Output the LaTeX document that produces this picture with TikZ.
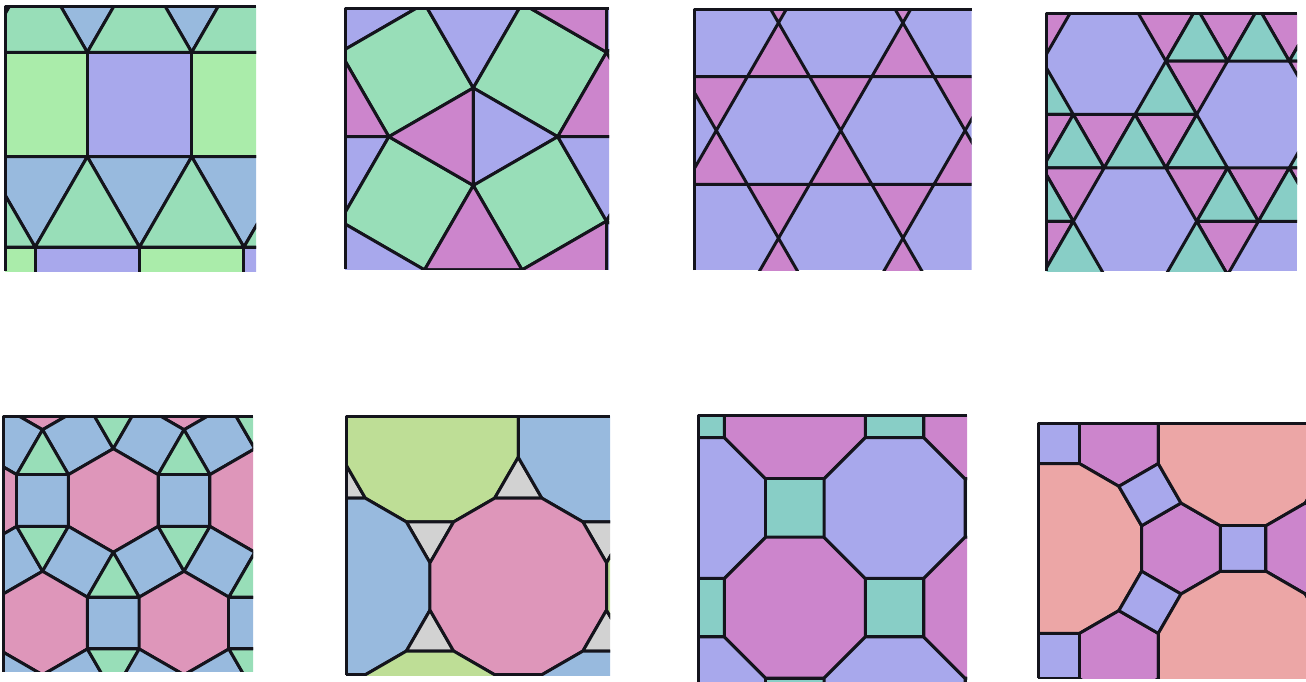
\documentclass[tikz,border=0pt]{standalone}
\usepackage{xcolor}
\definecolor{tilelav}{RGB}{168,168,236}
\definecolor{tilemag}{RGB}{204,133,204}
\definecolor{tilelgreen}{RGB}{170,236,170}
\definecolor{tilemint}{RGB}{152,222,184}
\definecolor{tileblue}{RGB}{152,186,222}
\definecolor{tileteal}{RGB}{136,206,198}
\definecolor{tilepink}{RGB}{222,150,186}
\definecolor{tileolive}{RGB}{190,222,150}
\definecolor{tilegrey}{RGB}{210,210,210}
\definecolor{tilesalmon}{RGB}{236,166,166}
\definecolor{tileedge}{RGB}{20,20,28}
\usepackage{tikz}

\begin{document}
\begin{tikzpicture}[x=1pt, y=-1pt, line width=3pt, line join=round,
  tile/.style={draw=tileedge},
  panelframe/.style={draw=tileedge, line width=3pt}]
\useasboundingbox (0,0) rectangle (1306,682);

\begin{scope}
  \clip (5,6.5) rectangle (256,271);
  \foreach \ry/\off in {-142.5/35.1, 52.3/87.3, 247.1/35.1} {
    \foreach \m in {-2,...,3} {
      \ifodd\m\relax \def\col{tilelgreen}\else \def\col{tilelav}\fi
      \filldraw[tile, fill=\col] (\off+104.4*\m, \ry) rectangle ++(104.4,104.4);
      \filldraw[tile, fill=tileblue] (\off+104.4*\m, \ry+104.4) -- (\off+104.4*\m+104.4, \ry+104.4) -- (\off+104.4*\m+52.2, \ry+194.8) -- cycle;
      \filldraw[tile, fill=tilemint] (\off+104.4*\m, \ry+104.4) -- (\off+104.4*\m+52.2, \ry+194.8) -- (\off+104.4*\m-52.2, \ry+194.8) -- cycle;
    }
  }
\end{scope}

\begin{scope}
  \clip (345,8.3) rectangle (609,269);
  \foreach \i in {-2,...,2} {
    \foreach \j in {-2,...,2} {
      \pgfmathsetmacro\px{473.3+133.2*\i}
      \pgfmathsetmacro\py{136.7+133.2*\j}
      \pgfmathtruncatemacro\pty{mod(\i+\j+10,2)}
      \ifnum\pty=0
        \filldraw[tile, fill=tilemag] (\px,\py-48.75) -- (\px-84.4,\py) -- (\px,\py+48.75) -- cycle;
        \filldraw[tile, fill=tilelav] (\px,\py-48.75) -- (\px+84.4,\py) -- (\px,\py+48.75) -- cycle;
        \def\rot{15}
      \else
        \filldraw[tile, fill=tilemag] (\px-48.75,\py) -- (\px,\py-84.4) -- (\px+48.75,\py) -- cycle;
        \filldraw[tile, fill=tilelav] (\px-48.75,\py) -- (\px,\py+84.4) -- (\px+48.75,\py) -- cycle;
        \def\rot{-15}
      \fi
      \filldraw[tile, fill=tilemint, shift={(\px+66.6,\py+66.6)}]
        (\rot:68.94) -- (\rot+90:68.94) -- (\rot+180:68.94) -- (\rot+270:68.94) -- cycle;
    }
  }
\end{scope}

\begin{scope}
  \clip (694,9.3) rectangle (971.5,270);
  \fill[tilelav] (694,9.3) rectangle (971.5,270);
  \foreach \cy/\ox in {22.8/778.5, 130.5/716.3, 238.2/778.5} {
    \foreach \m in {-1,...,2} {
      \pgfmathsetmacro\cx{\ox+124.4*\m}
      \filldraw[tile, fill=tilemag] (\cx,\cy) -- (\cx-31.1,\cy-53.85) -- (\cx+31.1,\cy-53.85) -- cycle;
      \filldraw[tile, fill=tilemag] (\cx,\cy) -- (\cx-31.1,\cy+53.85) -- (\cx+31.1,\cy+53.85) -- cycle;
    }
  }
\end{scope}

\begin{scope}
  \clip (1046.7,13.3) rectangle (1297,271);
  \fill[tilelav] (1046.7,13.3) rectangle (1297,271);
  \foreach \k in {-2,...,4} {
    \foreach \m in {-5,...,5} {
      \pgfmathsetmacro\vx{1135+61.7*(\m+\k/2)}
      \pgfmathsetmacro\vy{114.5+53.43*\k}
      \pgfmathtruncatemacro\ra{mod(\m-2*\k-2+70,7)}
      \pgfmathtruncatemacro\rb{mod(\m-2*\k-1+70,7)}
      \pgfmathtruncatemacro\rc{mod(\m-2*\k+1+70,7)}
      \pgfmathtruncatemacro\rd{mod(\m-2*\k-4+70,7)}
      \ifnum\ra>0 \ifnum\rb>0
        \ifnum\rc>0
          \filldraw[tile, fill=tileteal] (\vx,\vy) -- (\vx+61.7,\vy) -- (\vx+30.85,\vy-53.43) -- cycle;
        \fi
        \ifnum\rd>0
          \filldraw[tile, fill=tilemag] (\vx,\vy) -- (\vx+61.7,\vy) -- (\vx+30.85,\vy+53.43) -- cycle;
        \fi
      \fi\fi
    }
  }
\end{scope}

\begin{scope}
  \clip (3.3,416.3) rectangle (253,671.5);
  \foreach \k in {-1,...,2} {
    \foreach \m in {-3,...,3} {
      \pgfmathsetmacro\hx{113.3+141.52*(\m+\k/2)}
      \pgfmathsetmacro\hy{500.5+122.56*\k}
      \begin{scope}[shift={(\hx,\hy)}]
        \filldraw[tile, fill=tilepink] (30:51.8) \foreach \n in {90,150,...,330} { -- (\n:51.8)} -- cycle;
        \foreach \t in {0,60,120}
          \filldraw[tile, fill=tileblue, shift={(\t:70.76)}] (\t+45:36.63) -- (\t+135:36.63) -- (\t+225:36.63) -- (\t+315:36.63) -- cycle;
        \foreach \t in {30,90}
          \filldraw[tile, fill=tilemint, shift={(\t:81.71)}] (\t+60:29.91) -- (\t+180:29.91) -- (\t+300:29.91) -- cycle;
      \end{scope}
    }
  }
\end{scope}

\begin{scope}
  \clip (346,416.3) rectangle (610,675);
  \foreach \k in {-1,...,2} {
    \foreach \m in {-3,...,2} {
      \pgfmathsetmacro\ctx{430+176.52*\m+88.26*\k}
      \pgfmathsetmacro\cty{433.6+152.87*\k}
      \pgfmathtruncatemacro\cid{mod(\m-\k+30,3)}
      \ifcase\cid \def\col{tileolive}\or \def\col{tileblue}\else \def\col{tilepink}\fi
      \begin{scope}[shift={(\ctx,\cty)}]
        \filldraw[tile, fill=\col] (15:91.38) \foreach \n in {45,75,...,345} { -- (\n:91.38)} -- cycle;
        \filldraw[tile, fill=tilegrey, shift={(90:101.91)}] (90:27.31) -- (210:27.31) -- (330:27.31) -- cycle;
        \filldraw[tile, fill=tilegrey, shift={(30:101.91)}] (270:27.31) -- (30:27.31) -- (150:27.31) -- cycle;
      \end{scope}
    }
  }
\end{scope}

\begin{scope}
  \clip (698.7,415.3) rectangle (967,682);
  \foreach \i in {-1,...,2} {
    \foreach \j in {-1,...,3} {
      \pgfmathsetmacro\ox{794.85+99.7*\i}
      \pgfmathsetmacro\oy{408.3+99.7*\j}
      \pgfmathtruncatemacro\pty{mod(\i+\j+10,2)}
      \ifnum\pty=0
        \ifodd\i\relax \def\col{tilelav}\else \def\col{tilemag}\fi
        \filldraw[tile, fill=\col, shift={(\ox,\oy)}] (22.5:76.3) \foreach \n in {67.5,112.5,...,337.5} { -- (\n:76.3)} -- cycle;
      \else
        \filldraw[tile, fill=tileteal] (\ox-29.2,\oy-29.2) rectangle (\ox+29.2,\oy+29.2);
      \fi
    }
  }
\end{scope}

\begin{scope}
  \clip (1038,423.3) rectangle (1306,678);
  \foreach \k in {-1,...,2} {
    \foreach \m in {-2,...,2} {
      \pgfmathsetmacro\ox{1056.7+186.46*\k}
      \pgfmathsetmacro\oy{548.5+215.3*\m-107.65*\k}
      \begin{scope}[shift={(\ox,\oy)}]
        \filldraw[tile, fill=tilesalmon] (15:87.9) \foreach \n in {45,75,...,345} { -- (\n:87.9)} -- cycle;
        \foreach \t in {0,60}
          \filldraw[tile, fill=tilemag, shift={(\t:124.3)}] (30:45.5) \foreach \n in {90,150,...,330} { -- (\n:45.5)} -- cycle;
        \foreach \t in {-30,30,90}
          \filldraw[tile, fill=tilelav, shift={(\t:107.65)}] (\t+45:32.17) -- (\t+135:32.17) -- (\t+225:32.17) -- (\t+315:32.17) -- cycle;
      \end{scope}
    }
  }
\end{scope}

\foreach \l/\t/\r/\b in {5/6.5/256/271, 345/8.3/609/269, 694/9.3/971.5/270, 1046.7/13.3/1297/271,
  3.3/416.3/253/671.5, 346/416.3/610/675, 698.7/415.3/967/682, 1038/423.3/1306/678}
  \draw[panelframe] (\l,\b) -- (\l,\t) -- (\r,\t);
\end{tikzpicture}
\end{document}
